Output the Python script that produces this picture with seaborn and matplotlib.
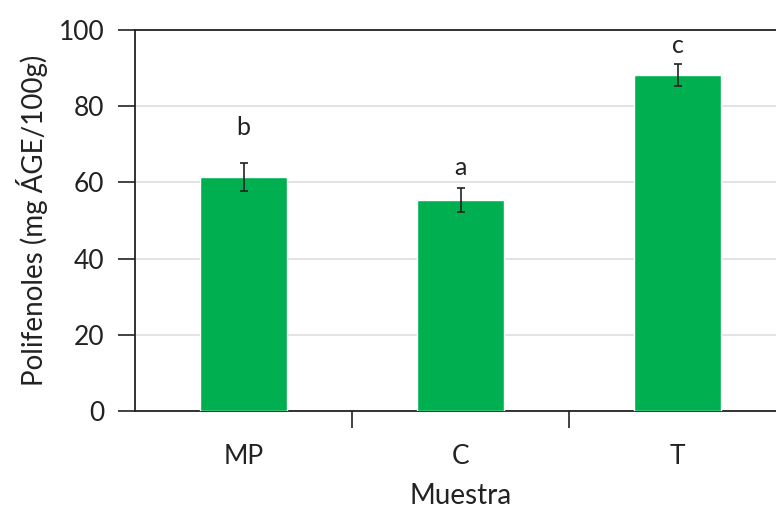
import matplotlib
matplotlib.use("Agg")
import matplotlib.pyplot as plt
import pandas as pd
import seaborn as sns

# datos
muestras = ["MP", "C", "T"]
polifenoles = [61.4, 55.4, 88.2]
error = [3.6, 3.1, 3.0]
letras = ["b", "a", "c"]
letras_y = [74.5, 64.0, 96.0]

sns.set_theme(style="white")
plt.rcParams["font.family"] = ["Lato", "DejaVu Sans"]

df = pd.DataFrame({"Muestra": muestras, "Polifenoles": polifenoles})

fig = plt.figure(figsize=(7.76, 5.11), dpi=100)
ax = fig.add_axes([0.174, 0.196, 0.839, 0.745])

sns.barplot(data=df, x="Muestra", y="Polifenoles", color="#00B050",
            saturation=1, width=0.4, errorbar=None, ax=ax, zorder=3)
ax.errorbar(range(len(muestras)), polifenoles, yerr=error, fmt="none",
            ecolor="#222222", elinewidth=1.2, capsize=3, capthick=1.2, zorder=4)

for i, (ly, l) in enumerate(zip(letras_y, letras)):
    ax.text(i, ly, l, ha="center", va="center", fontsize=18, color="#222222")

ax.set_ylim(0, 100)
ax.set_xlim(-0.5, 2.5)
ax.set_yticks([0, 20, 40, 60, 80, 100])
ax.yaxis.grid(True, color="#dedede", linewidth=1.2, zorder=0)
ax.set_axisbelow(True)

# ticks entre categorías en el eje x
ax.set_xticks([0.5, 1.5, 2.5], minor=True)
ax.tick_params(axis="x", which="minor", length=12, width=1.2, color="#222222",
               direction="out", bottom=True)
ax.tick_params(axis="x", which="major", length=0, labelsize=19, pad=24,
               labelcolor="#222222")
ax.tick_params(axis="y", length=12, width=1.2, color="#222222", direction="out",
               left=True, labelsize=19, labelcolor="#222222", pad=10)

for side in ["left", "bottom", "top"]:
    ax.spines[side].set_color("#222222")
    ax.spines[side].set_linewidth(1.3)
ax.spines["right"].set_visible(False)

ax.set_xlabel("Muestra", fontsize=20, color="#222222", labelpad=10)
ax.set_ylabel("Polifenoles (mg ÁGE/100g)", fontsize=20, color="#222222", labelpad=8)

fig.savefig("out.png", dpi=100)
